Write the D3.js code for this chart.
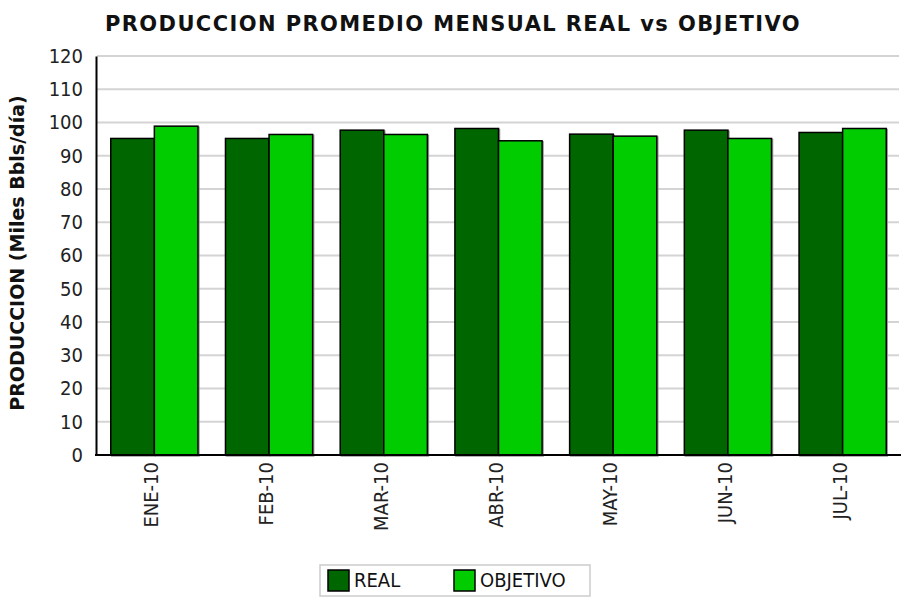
<!DOCTYPE html>
<html>
<head>
<meta charset="utf-8">
<script src="https://cdn.jsdelivr.net/npm/d3@7"></script>
<style>
  body { margin: 0; background: #fff; }
  svg { display: block; }
</style>
</head>
<body>
<svg id="chart" width="901" height="599"></svg>
<script>
const months = ["ENE-10", "FEB-10", "MAR-10", "ABR-10", "MAY-10", "JUN-10", "JUL-10"];
const seriesNames = ["REAL", "OBJETIVO"];
const realValues = [95.2, 95.2, 97.7, 98.2, 96.5, 97.7, 97.0];
const objetivoValues = [98.9, 96.4, 96.4, 94.5, 95.9, 95.2, 98.2];
const yTicks = [0, 10, 20, 30, 40, 50, 60, 70, 80, 90, 100, 110, 120];
const colors = ["#006600", "#00cc00"];

const rows = months.map((m, i) => ({ month: m, values: [realValues[i], objetivoValues[i]] }));

const svg = d3.select("#chart");
const margin = { left: 97, right: 1, top: 56, bottom: 144 };
const W = 901, H = 599;
const tickFont = "'DejaVu Sans Condensed', 'DejaVu Sans', sans-serif";

const x0 = d3.scaleBand().domain(months)
  .range([margin.left, W - margin.right])
  .paddingInner(0.24).paddingOuter(0.12);
const x1 = d3.scaleBand().domain(seriesNames).range([0, x0.bandwidth()]);
const y = d3.scaleLinear().domain([0, 120]).range([H - margin.bottom, margin.top]);

// title
svg.append("text")
  .attr("x", 453).attr("y", 31)
  .attr("text-anchor", "middle")
  .style("font-family", "'DejaVu Sans', Verdana, sans-serif")
  .style("font-weight", "bold")
  .style("font-size", "21px")
  .style("letter-spacing", "1.4px")
  .attr("fill", "#111")
  .text("PRODUCCION PROMEDIO MENSUAL REAL vs OBJETIVO");

// grid
svg.append("g")
  .selectAll("line")
  .data(yTicks.filter(d => d > 0))
  .join("line")
  .attr("x1", margin.left).attr("x2", W - 2)
  .attr("y1", d => y(d)).attr("y2", d => y(d))
  .attr("stroke", "#d4d4d4").attr("stroke-width", 2);

// y axis
const yAxis = svg.append("g")
  .attr("transform", `translate(${margin.left - 1},0)`)
  .call(d3.axisLeft(y).tickValues(yTicks).tickSize(0).tickPadding(13));
yAxis.select(".domain").attr("stroke", "#000").attr("stroke-width", 2);
yAxis.selectAll("text")
  .style("font-family", tickFont)
  .style("font-size", "20px")
  .attr("fill", "#222");

// bars
const groups = svg.append("g")
  .selectAll("g")
  .data(rows)
  .join("g")
  .attr("transform", d => `translate(${x0(d.month)},0)`);

groups.selectAll("rect.shadow")
  .data(d => d.values.map((v, i) => ({ key: seriesNames[i], v })))
  .join("rect")
  .attr("class", "shadow")
  .attr("x", d => x1(d.key) + 1)
  .attr("y", d => y(d.v) + 1)
  .attr("width", x1.bandwidth())
  .attr("height", d => y(0) - y(d.v))
  .attr("fill", "none")
  .attr("stroke", "#999")
  .attr("stroke-width", 1.5);

groups.selectAll("rect.bar")
  .data(d => d.values.map((v, i) => ({ key: seriesNames[i], v, c: colors[i] })))
  .join("rect")
  .attr("class", "bar")
  .attr("x", d => x1(d.key))
  .attr("y", d => y(d.v))
  .attr("width", x1.bandwidth())
  .attr("height", d => y(0) - y(d.v))
  .attr("fill", d => d.c)
  .attr("stroke", "#000")
  .attr("stroke-width", 1.5);

// x axis
const xAxis = svg.append("g")
  .attr("transform", `translate(0,${y(0)})`)
  .call(d3.axisBottom(x0).tickSize(0).tickPadding(0));
xAxis.select(".domain").attr("stroke", "#000").attr("stroke-width", 2)
  .attr("d", `M${margin.left - 2},0H${W}`);
xAxis.selectAll("text")
  .attr("transform", "translate(-3,7) rotate(-90)")
  .attr("text-anchor", "end")
  .attr("dy", "0.35em")
  .attr("y", 0)
  .style("font-family", tickFont)
  .style("font-size", "20px")
  .attr("fill", "#222");

// y label
svg.append("text")
  .attr("transform", "translate(24,253) rotate(-90)")
  .attr("text-anchor", "middle")
  .style("font-family", "'DejaVu Sans', Verdana, sans-serif")
  .style("font-weight", "bold")
  .style("font-size", "19px")
  .attr("fill", "#111")
  .text("PRODUCCION (Miles Bbls/día)");

// legend
const legend = svg.append("g");
legend.append("rect")
  .attr("x", 320).attr("y", 565).attr("width", 270).attr("height", 31)
  .attr("fill", "#fff").attr("stroke", "#ccc").attr("stroke-width", 1.5);
const items = legend.selectAll("g")
  .data(seriesNames)
  .join("g")
  .attr("transform", (d, i) => `translate(${328 + i * 126},570)`);
items.append("rect")
  .attr("width", 21).attr("height", 21)
  .attr("fill", (d, i) => colors[i])
  .attr("stroke", "#000").attr("stroke-width", 1.5);
items.append("text")
  .attr("x", 26).attr("y", 17)
  .style("font-family", tickFont)
  .style("font-size", "20px")
  .attr("fill", "#111")
  .text(d => d);
</script>
</body>
</html>
